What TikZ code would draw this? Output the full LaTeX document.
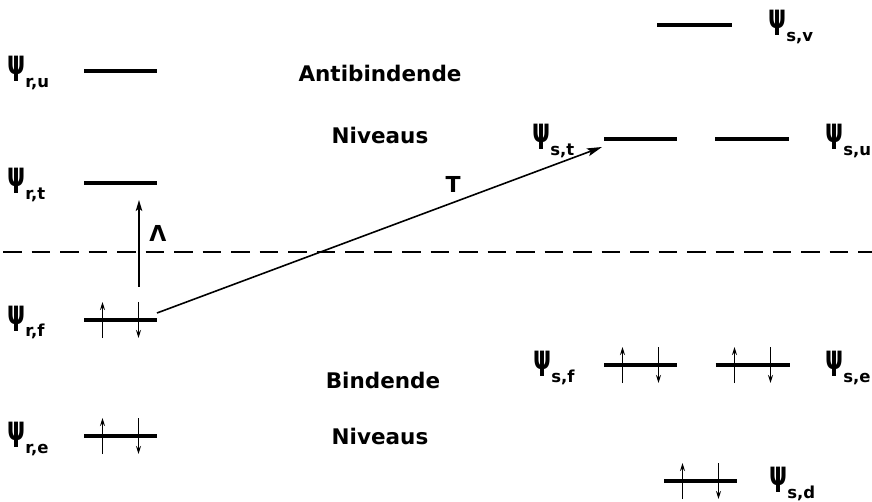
\documentclass[tikz,border=0pt]{standalone}
\usepackage{graphicx}
\usepackage{fontspec}
\setmainfont{DejaVu Sans}
\usetikzlibrary{arrows.meta,calc}
\newcommand\psilab[1]{{\fontsize{24}{24}\selectfont\bfseries\scalebox{0.95}[1.4]{ψ}}\raisebox{-13pt}{\fontsize{16.5}{16.5}\selectfont\bfseries #1}}
\newcommand\spinpair[1]{%
  \draw[spin] ($(#1)+(-18,18)$) -- ($(#1)+(-18,-18)$);
  \draw[spin] ($(#1)+(18,-18)$) -- ($(#1)+(18,18)$);}
\tikzset{
  lvl/.style={minimum width=73pt, minimum height=0pt, inner sep=0pt, outer sep=0pt},
  lvlline/.style={line width=3.5pt},
  lab/.style={inner sep=0pt, anchor=base west},
  word/.style={inner sep=0pt, font=\fontsize{21.5}{26}\selectfont\bfseries},
  spin/.style={line width=1.4pt, -{Stealth[length=8pt,width=5pt]}},
  trans/.style={line width=1.6pt, -{Stealth[length=15pt,width=8pt,inset=3pt]}},
}
\begin{document}
\begin{tikzpicture}[x=1pt,y=-1pt]
\useasboundingbox (0,0) rectangle (872,502);
% levels
\node[lvl] (ru) at (120.5,71) {};
\node[lvl] (rt) at (120.5,183) {};
\node[lvl] (rf) at (120.5,320) {};
\node[lvl] (re) at (120.5,436) {};
\node[lvl,minimum width=75pt] (sv) at (694.5,25) {};
\node[lvl] (st) at (640.5,139) {};
\node[lvl,minimum width=74pt] (su) at (752,139) {};
\node[lvl] (sf) at (640.5,365) {};
\node[lvl,minimum width=74pt] (se) at (752.5,365) {};
\node[lvl] (sd) at (700.5,481) {};
\foreach \n in {ru,rt,rf,re,sv,st,su,sf,se,sd}
  \draw[lvlline] (\n.west) -- (\n.east);
% labels
\node[lab] (Lru) at (7,75) {\psilab{r,u}};
\node[lab] (Lrt) at (7,187) {\psilab{r,t}};
\node[lab] (Lrf) at (7,324) {\psilab{r,f}};
\node[lab] (Lre) at (7,440) {\psilab{r,e}};
\node[lab] (Lsv) at (768,29) {\psilab{s,v}};
\node[lab] (Lst) at (532,143) {\psilab{s,t}};
\node[lab] (Lsu) at (825,143) {\psilab{s,u}};
\node[lab] (Lsf) at (533,369) {\psilab{s,f}};
\node[lab] (Lse) at (825,369) {\psilab{s,e}};
\node[lab] (Lsd) at (769,485) {\psilab{s,d}};
% words
\node[word] (w1) at (380,73) {Antibindende};
\node[word] (w2) at (380,135) {Niveaus};
\node[word] (w3) at (383,380) {Bindende};
\node[word] (w4) at (380,436) {Niveaus};
% spins
\spinpair{rf}
\spinpair{re}
\spinpair{sf}
\spinpair{se}
\spinpair{sd}
% dashed line
\coordinate (dl) at (3,252);
\coordinate (dr) at (872,252);
\draw[line width=1.5pt, dash pattern=on 18.5pt off 10pt] (dl) -- (dr);
% Lambda arrow
\draw[trans,-{Stealth[length=11pt,width=6.5pt,inset=2.5pt]}] ($(rf)+(18.5,-33)$) -- ($(rt)+(18.5,17)$);
\node[inner sep=0pt] (lam) at (158,233) {\fontsize{22}{22}\selectfont\bfseries Λ};
% T arrow
\draw[trans] ($(rf.east)+(0,-7)$) -- ($(st.west)+(-2,8)$);
\node[inner sep=0pt] (T) at (453,184) {\fontsize{22}{22}\selectfont\bfseries T};
\end{tikzpicture}
\end{document}
